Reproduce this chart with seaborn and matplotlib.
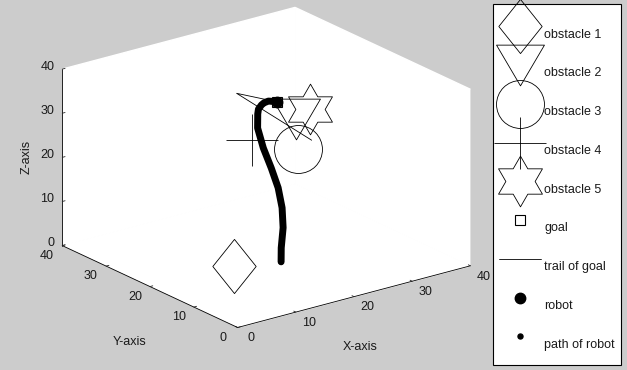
import matplotlib
matplotlib.use("Agg")
import numpy as np
import matplotlib.pyplot as plt
import seaborn as sns
from matplotlib.lines import Line2D
from matplotlib.path import Path
from matplotlib.patches import Rectangle
from mpl_toolkits.mplot3d import proj3d

sns.set_theme(style="white")
plt.rcParams["font.family"] = ["Liberation Sans", "DejaVu Sans"]

# ---- scene data (x, y, z in workspace units) ----
obstacle_labels = ["obstacle 1", "obstacle 2", "obstacle 3", "obstacle 4", "obstacle 5"]
obstacle_x = [10.0, 19.0, 17.5, 14.5, 23.0]
obstacle_y = [14.0, 12.0, 9.5, 16.0, 14.0]
obstacle_z = [4.0, 35.0, 30.0, 30.0, 35.0]

goal_x = [21.0]
goal_y = [19.0]
goal_z = [35.0]

trail_x = [21.0, 15.5, 21.0]
trail_y = [11.0, 20.8, 19.0]
trail_z = [30.0, 38.0, 35.0]

path_x = [15.0, 15.4, 16.1, 16.3, 16.0, 15.2, 14.2, 13.6, 14.0, 14.5, 15.4, 16.6, 18.1, 21.0]
path_y = [10.0, 10.5, 11.0, 11.5, 12.0, 12.5, 13.0, 13.5, 14.0, 14.5, 15.0, 16.0, 17.0, 19.0]
path_z = [5.0, 7.8, 11.9, 16.1, 20.5, 25.0, 29.7, 34.2, 37.0, 37.7, 38.1, 37.7, 37.1, 35.0]

axis_ticks = [0, 10, 20, 30, 40]
tick_labels = [str(t) for t in axis_ticks]

# ---- marker shapes ----
diamond = Path([(0, 1), (0.8, 0), (0, -1), (-0.8, 0), (0, 1)], closed=True)
tri_down = Path([(-1, 0.85), (1, 0.85), (0, -0.85), (-1, 0.85)], closed=True)
ang = np.deg2rad(90 + 60 * np.arange(6))
ang_in = ang + np.deg2rad(30)
r_in = 1 / np.sqrt(3)
star_pts = []
for a, b in zip(ang, ang_in):
    star_pts.append((np.cos(a), np.sin(a)))
    star_pts.append((r_in * np.cos(b), r_in * np.sin(b)))
star_pts.append(star_pts[0])
hexagram = Path(star_pts, closed=True)

obstacle_markers = [diamond, tri_down, "o", "+", hexagram]
obstacle_sizes = [39, 34.5, 34.5, 37, 36.5]

W, H = 627, 370
fig = plt.figure(figsize=(W / 100, H / 100), dpi=100, facecolor="#cccccc")

S = 440
cx, cy = 260.4, H - 173.4
ax = fig.add_axes([(cx - S / 2) / W, (cy - S / 2) / H, S / W, S / H],
                  projection="3d", proj_type="ortho", computed_zorder=False)
ax.set_facecolor((0, 0, 0, 0))
ax.view_init(elev=20.6, azim=-127.0)
ax.set_box_aspect((1, 1, 0.647))

handles = []
for lab, mk, ms, x, y, z in zip(obstacle_labels, obstacle_markers, obstacle_sizes,
                                obstacle_x, obstacle_y, obstacle_z):
    h, = ax.plot([x], [y], [z], linestyle="none", marker=mk, markersize=ms,
                 markerfacecolor="none", markeredgecolor="black",
                 markeredgewidth=0.6, label=lab)
    handles.append(h)

trail, = ax.plot(trail_x, trail_y, trail_z, color="black", lw=0.6, label="trail of goal")
ax.plot(path_x, path_y, path_z, color="black", lw=5.0,
        solid_capstyle="round", solid_joinstyle="round")
robot, = ax.plot(path_x[-1:], path_y[-1:], path_z[-1:], linestyle="none", marker="o",
                 markersize=7.5, color="black", label="robot")
goal, = ax.plot(goal_x, goal_y, goal_z, linestyle="none", marker="s", markersize=7.5,
                markerfacecolor="none", markeredgecolor="black", markeredgewidth=0.8,
                label="goal")
path_key = Line2D([], [], linestyle="none", marker="o", markersize=3.6,
                  color="black", label="path of robot")

handles += [goal, trail, robot, path_key]

ax.set_xlim(0, 40)
ax.set_ylim(0, 40)
ax.set_zlim(0, 40)
ax.set_xticks(axis_ticks)
ax.set_yticks(axis_ticks)
ax.set_zticks(axis_ticks)
ax.grid(False)
text_col = "#1a1a1a"
for axis in (ax.xaxis, ax.yaxis, ax.zaxis):
    axis.set_pane_color((1, 1, 1, 1))
    axis.line.set_color("black")
    axis.line.set_linewidth(0.6)
    axis._axinfo["tick"]["inward_factor"] = 0.0
    axis._axinfo["tick"]["outward_factor"] = 0.15
    axis._axinfo["tick"]["linewidth"] = {True: 0.6, False: 0.6}
    axis.set_tick_params(labelbottom=False, labeltop=False)
    axis.label.set_visible(False)
    axis.offsetText.set_visible(False)

# tick labels sit just outside the front edges of the box; project their
# anchor points once so the labels live in the axes' 2D coordinates
M = ax.get_proj()


def tick_text(x, y, z, s, **kw):
    px, py, _ = proj3d.proj_transform(x, y, z, M)
    ax.text2D(px, py, s, transform=ax.transData, fontsize=9, color=text_col,
              va="center", **kw)


for t, s in zip(axis_ticks, tick_labels):
    tick_text(t, -3.1, -1.0, s, ha="center")
    tick_text(-2.6, t, -1.4, s, ha="center")
    tick_text(-0.29, 41.44, t, s, ha="right")

fig.text(360 / W, 1 - 347 / H, "X-axis", fontsize=9, color=text_col, ha="center", va="center")
fig.text(130 / W, 1 - 341.7 / H, "Y-axis", fontsize=9, color=text_col, ha="center", va="center")
fig.text(27 / W, 1 - 157 / H, "Z-axis", fontsize=9, color=text_col, ha="center", va="center",
         rotation=90)

# legend box
fig.add_artist(Rectangle((493 / W, 1 - 365 / H), 128 / W, 361 / H, transform=fig.transFigure,
                         facecolor="white", edgecolor="black", linewidth=0.8, zorder=4))
leg = fig.legend(handles=handles, loc="upper left", bbox_to_anchor=(493 / W, 1 - 9 / H),
                 fontsize=9, frameon=False,
                 handlelength=3.36, handleheight=4.39, labelspacing=0.0,
                 handletextpad=0.25, borderpad=0.49, borderaxespad=0.0,
                 numpoints=1, labelcolor=text_col)
leg.set_zorder(5)

fig.savefig("out.png", dpi=100, facecolor=fig.get_facecolor())
